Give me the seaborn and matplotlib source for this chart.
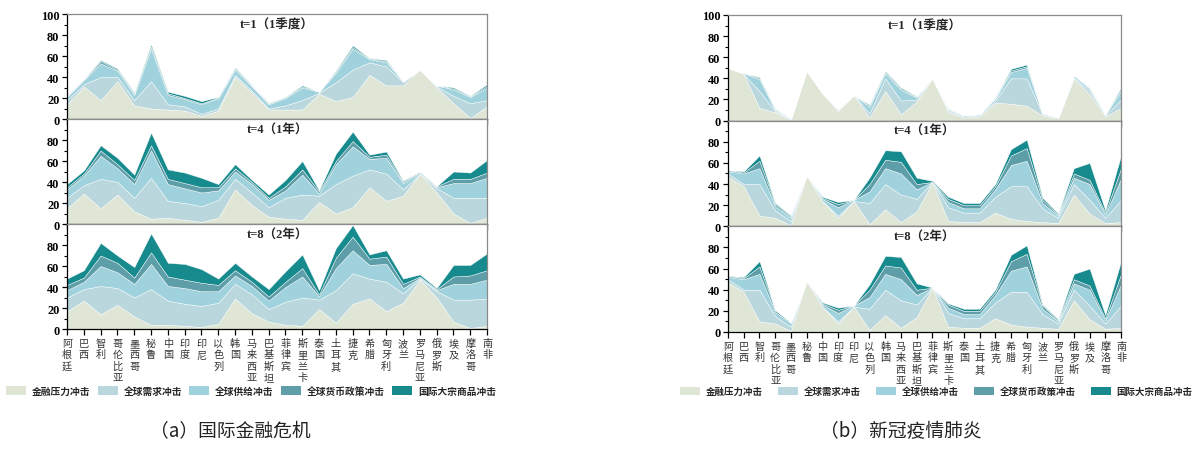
import numpy as np
import matplotlib
matplotlib.use("Agg")
import matplotlib.pyplot as plt
from matplotlib.patches import Patch
from matplotlib.ticker import MultipleLocator
import seaborn as sns

# ---------------------------------------------------------------- categories
countries = ["阿根廷", "巴西", "智利", "哥伦比亚", "墨西哥", "秘鲁", "中国", "印度",
             "印尼", "以色列", "韩国", "马来西亚", "巴基斯坦", "菲律宾", "斯里兰卡",
             "泰国", "土耳其", "捷克", "希腊", "匈牙利", "波兰", "罗马尼亚", "俄罗斯",
             "埃及", "摩洛哥", "南非"]
shock_names = ["金融压力冲击", "全球需求冲击", "全球供给冲击", "全球货币政策冲击", "国际大宗商品冲击"]
horizon_titles = ["t=1（1季度）", "t=4（1年）", "t=8（2年）"]
panel_captions = ["（a）国际金融危机", "（b）新冠疫情肺炎"]

# ------------------------------------------- (a) global financial crisis, t=1
gfc_t1_fin = [14, 31, 18, 36, 13, 10, 9, 8, 3, 8, 40, 25, 9, 9, 9, 24, 17, 21, 42, 32, 32, 47, 30, 15, 1, 12]
gfc_t1_dem = [4, 2, 22, 4, 5, 26, 5, 4, 2, 2, 2, 2, 1, 4, 9, 1, 18, 26, 12, 18, 3, 0, 1, 7, 14, 6]
gfc_t1_sup = [3, 4, 13, 6, 5, 31, 9, 7, 9, 10, 5, 4, 4, 7, 12, 1, 9, 20, 3, 4, 1, 0, 1, 6, 6, 12]
gfc_t1_mon = [0.5, 0.5, 2, 1, 1, 2, 1.5, 1, 1, 0.5, 1, 0.5, 0.5, 0.5, 1, 0, 1, 1.5, 0.5, 1, 0, 0, 0, 1, 0.5, 1.5]
gfc_t1_com = [0.5, 0.5, 1, 1, 1, 2, 1.5, 2, 2, 0.5, 1, 0.5, 0.5, 0.5, 1, 0, 1, 1.5, 0.5, 1, 0, 0, 0, 1, 0.5, 1.5]

# ------------------------------------------- (a) global financial crisis, t=4
gfc_t4_fin = [15, 29, 15, 28, 12, 5, 6, 4, 2, 6, 33, 18, 7, 5, 4, 21, 10, 16, 35, 22, 27, 48, 30, 10, 1, 6]
gfc_t4_dem = [10, 8, 28, 12, 13, 39, 16, 16, 15, 17, 10, 12, 9, 20, 24, 6, 28, 30, 17, 26, 6, 0, 4, 15, 24, 19]
gfc_t4_sup = [8, 9, 22, 13, 13, 26, 16, 14, 13, 9, 7, 8, 7, 7, 19, 2, 19, 28, 10, 15, 6, 1, 1, 14, 14, 19]
gfc_t4_mon = [2, 2, 5, 4, 4, 5, 5, 5, 5, 3, 3, 2, 2, 4, 5, 2, 3, 5, 2, 3, 1, 1, 1, 4, 4, 5]
gfc_t4_com = [3, 3, 5, 6, 5, 12, 9, 10, 9, 3, 4, 2, 3, 6, 8, 1, 7, 9, 2, 3, 1, 0, 0, 7, 6, 12]

# ------------------------------------------- (a) global financial crisis, t=8
gfc_t8_fin = [17, 27, 14, 23, 12, 4, 4, 3, 2, 5, 29, 15, 7, 4, 3, 19, 6, 24, 29, 17, 25, 47, 30, 7, 1, 3]
gfc_t8_dem = [13, 11, 27, 16, 18, 34, 23, 21, 20, 20, 14, 18, 12, 22, 27, 9, 31, 29, 19, 28, 9, 1, 6, 21, 27, 26]
gfc_t8_sup = [7, 7, 19, 15, 13, 24, 14, 15, 14, 11, 8, 8, 8, 14, 20, 3, 21, 22, 13, 17, 5, 1, 1, 15, 15, 18]
gfc_t8_mon = [5, 4, 10, 9, 6, 11, 9, 8, 8, 6, 5, 4, 4, 5, 8, 2, 10, 13, 6, 7, 4, 1, 1, 7, 8, 9]
gfc_t8_com = [6, 7, 12, 7, 10, 18, 13, 15, 13, 6, 7, 5, 7, 10, 13, 4, 9, 11, 4, 6, 5, 2, 1, 11, 10, 16]

# ----------------------------------------------------- (b) COVID-19, t=1
cov_t1_fin = [50, 44, 12, 8, 1, 47, 26, 9, 24, 3, 28, 6, 18, 40, 8, 3, 4, 17, 16, 14, 5, 2, 40, 25, 4, 12]
cov_t1_dem = [0, 0, 16, 1, 0, 0, 0, 1, 0, 4, 12, 13, 2, 0, 1, 1, 1, 2, 24, 26, 1, 0, 1, 3, 1, 8]
cov_t1_sup = [0, 1, 11, 1, 1, 0, 0, 1, 0, 6, 5, 10, 2, 0, 1, 1, 1, 2, 6, 10, 1, 1, 2, 2, 1, 8]
cov_t1_mon = [0, 0, 1, 0.5, 0, 0, 0, 0, 0, 1, 1, 1, 0.5, 0, 0.5, 0, 0, 0.5, 1.5, 1.5, 0, 0, 0, 0.5, 0, 1.5]
cov_t1_com = [0, 0, 1, 0.5, 0, 0, 0, 0, 0, 1, 1, 1, 0.5, 0, 0.5, 0, 0, 0.5, 1.5, 1.5, 0, 0, 0, 0.5, 0, 1.5]

# ----------------------------------------------------- (b) COVID-19, t=4
cov_t4_fin = [47, 38, 10, 8, 1, 48, 24, 8, 24, 2, 16, 4, 14, 42, 5, 4, 4, 13, 7, 5, 4, 3, 30, 12, 3, 4]
cov_t4_dem = [3, 2, 30, 7, 4, 0, 0, 2, 0, 20, 24, 26, 12, 0, 13, 9, 9, 15, 31, 33, 13, 5, 10, 13, 5, 21]
cov_t4_sup = [2, 10, 15, 4, 3, 0, 2, 8, 1, 11, 15, 20, 9, 0, 5, 4, 4, 7, 20, 24, 5, 2, 6, 15, 3, 20]
cov_t4_mon = [1, 1, 7, 2, 1, 0, 1, 3, 0, 7, 8, 11, 5, 0, 3, 3, 3, 3, 9, 12, 3, 1, 4, 4, 2, 10]
cov_t4_com = [0, 1, 5, 1, 1, 0, 1, 2, 0, 6, 9, 10, 6, 1, 2, 2, 2, 2, 6, 8, 2, 1, 5, 16, 2, 12]

# ----------------------------------------------------- (b) COVID-19, t=8
cov_t8_fin = [47, 38, 10, 8, 1, 48, 24, 8, 24, 2, 16, 4, 14, 42, 5, 4, 4, 13, 7, 5, 4, 3, 30, 12, 3, 4]
cov_t8_dem = [3, 2, 30, 7, 4, 0, 0, 2, 0, 20, 24, 26, 12, 0, 13, 9, 9, 15, 31, 33, 13, 5, 10, 13, 5, 21]
cov_t8_sup = [2, 10, 15, 4, 3, 0, 2, 8, 1, 11, 15, 20, 9, 0, 5, 4, 4, 7, 20, 24, 5, 2, 6, 15, 3, 20]
cov_t8_mon = [1, 1, 7, 2, 1, 0, 1, 3, 0, 7, 8, 11, 5, 0, 3, 3, 3, 3, 9, 12, 3, 1, 4, 4, 2, 10]
cov_t8_com = [0, 1, 5, 0, 0, 0, 1, 2, 0, 5, 9, 10, 6, 0, 1, 2, 2, 2, 6, 8, 1, 1, 5, 16, 3, 12]

panels = [
    [[gfc_t1_fin, gfc_t1_dem, gfc_t1_sup, gfc_t1_mon, gfc_t1_com],
     [gfc_t4_fin, gfc_t4_dem, gfc_t4_sup, gfc_t4_mon, gfc_t4_com],
     [gfc_t8_fin, gfc_t8_dem, gfc_t8_sup, gfc_t8_mon, gfc_t8_com]],
    [[cov_t1_fin, cov_t1_dem, cov_t1_sup, cov_t1_mon, cov_t1_com],
     [cov_t4_fin, cov_t4_dem, cov_t4_sup, cov_t4_mon, cov_t4_com],
     [cov_t8_fin, cov_t8_dem, cov_t8_sup, cov_t8_mon, cov_t8_com]],
]

# ------------------------------------------------------------------- styling
sns.set_theme(style="ticks")
plt.rcParams["font.family"] = ["Liberation Serif", "Noto Sans CJK SC"]
plt.rcParams["axes.linewidth"] = 0.9
shock_colors = sns.color_palette(["#dfe6d6", "#bad7dd", "#9fd2dd", "#5e9ea9", "#178a8e"])

CJK = "Noto Sans CJK SC"
fig = plt.figure(figsize=(11.95, 4.52), dpi=100)

# axes geometry of the two panels: (left, width, bottom of lowest row, row height)
geometry = [(0.0561, 0.3515, 0.2699, 0.2323),
            (0.6092, 0.3289, 0.2633, 0.2338)]

x = np.arange(len(countries))
for p, (left, width, bottom, h) in enumerate(geometry):
    for r in range(3):
        ax = fig.add_axes([left, bottom + (2 - r) * h, width, h])
        layers = [np.asarray(s, dtype=float) for s in panels[p][r]]
        ax.stackplot(x, *layers, colors=shock_colors, linewidth=0.3)
        ax.set_xlim(0, len(countries) - 1)
        ax.set_ylim(0, 100)
        ax.set_facecolor("white")

        # y axis: labelled every 20, minor ticks every 10
        ax.yaxis.set_minor_locator(MultipleLocator(10))
        ticks = [0, 20, 40, 60, 80, 100] if r == 0 else [0, 20, 40, 60, 80]
        ax.set_yticks(ticks)
        ax.set_yticklabels([str(t) for t in ticks], fontsize=8.8,
                           fontweight="bold", family="Liberation Serif")
        ax.tick_params(axis="y", which="major", direction="out", length=3.5,
                       width=0.9, pad=2, colors="black")
        ax.tick_params(axis="y", which="minor", direction="out", length=2,
                       width=0.8, colors="black")

        ax.set_xticks(x)
        if r == 2:
            ax.set_xticklabels(["\n".join(c) for c in countries], family=CJK,
                               fontsize=7.3, linespacing=1.17)
        else:
            ax.set_xticklabels([])
        ax.tick_params(axis="x", direction="out", length=4, width=0.9,
                       pad=2.5, colors="black")
        for lab in ax.get_xticklabels():
            lab.set_color("#333333")

        for side in ("top", "right"):
            ax.spines[side].set_color("#8a8a8a")
        for side in ("left", "bottom"):
            ax.spines[side].set_color("black")

        ax.text(0.5, 0.9, horizon_titles[r], transform=ax.transAxes,
                ha="center", va="center", fontsize=9, fontweight="bold",
                family=["Liberation Serif", CJK])

handles = [Patch(facecolor=c, edgecolor="none") for c in shock_colors]
legend_spec = [(0.210, 0.133, 7.0, 0.7), (0.7835, 0.133, 6.8, 1.65)]
for (cx, cy, fs, cs) in legend_spec:
    fig.legend(handles, shock_names, loc="center", bbox_to_anchor=(cx, cy),
               ncol=5, frameon=False,
               prop=dict(family=CJK, weight="bold", size=fs),
               handlelength=2.1, handleheight=0.95, handletextpad=0.6,
               columnspacing=cs, borderpad=0)

fig.text(0.193, 0.022, panel_captions[0], ha="center", va="bottom",
         fontsize=13.5, family=CJK, color="#222222")
fig.text(0.754, 0.022, panel_captions[1], ha="center", va="bottom",
         fontsize=13.5, family=CJK, color="#222222")

fig.savefig("out.png", dpi=100, facecolor="white")
